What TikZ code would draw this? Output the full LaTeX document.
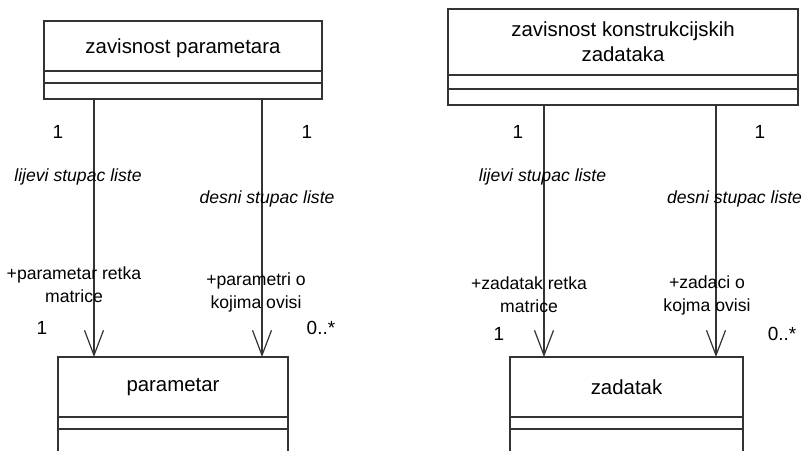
\documentclass[tikz,border=0pt]{standalone}
\usepackage{fontspec}
\setmainfont{Liberation Sans}
\usetikzlibrary{arrows.meta, positioning}
\definecolor{umlline}{HTML}{333333}

\begin{document}
\begin{tikzpicture}[
	x=0.5pt, y=-0.5pt,
	classbox/.style={
		draw=umlline, line width=0.6pt, inner sep=0pt, outer sep=0pt,
		align=center, font=\fontsize{10.2}{12.5}\selectfont
	},
	compart/.style={classbox, minimum height=#1},
	assoc/.style={draw=umlline, line width=0.6pt, -{Straight Barb[length=12.5pt, width=9.5pt, line width=0.6pt]}},
	mult/.style={font=\fontsize{9.5}{11}\selectfont},
	rolename/.style={font=\itshape\fontsize{8.8}{11}\selectfont},
	roleend/.style={font=\fontsize{8.8}{11.5}\selectfont, align=center}
	]
	
	\useasboundingbox (0,0) rectangle (802,450);
	\clip (0,0) rectangle (802,450);
	
	% ==========================================
	% LEFT: zavisnost parametara -> parametar
	% ==========================================
	
	% Association class (top)
	\node[compart=25pt, minimum width=139pt, text height=9.5pt, text depth=2pt] (zpName) at (183,46) {zavisnost parametara};
	\node[compart=6pt, minimum width=139pt, below=0pt of zpName] (zpAttr) {};
	\node[compart=8pt, minimum width=139pt, below=0pt of zpAttr] (zpOps) {};
	
	% Target class (bottom), cut off by the page edge
	\node[compart=30pt, minimum width=115pt] (parName) at (173,387) {parametar};
	\node[compart=6pt, minimum width=115pt, below=0pt of parName] (parAttr) {};
	\node[compart=12pt, minimum width=115pt, below=0pt of parAttr] (parOps) {};
	
	% Columns of the two ends
	\coordinate (colA) at (94,0);
	\coordinate (colB) at (262,0);
	
	\draw[assoc] (zpOps.south -| colA) -- (parName.north -| colA);
	\draw[assoc] (zpOps.south -| colB) -- (parName.north -| colB);
	
	% Multiplicities and roles
	\node[mult] (mA1) at (58,132) {1};
	\node[mult] (mB1) at (307,132) {1};
	\node[rolename] (rA) at (78,177) {lijevi stupac liste};
	\node[rolename] (rB) at (267,199) {desni stupac liste};
	\node[roleend] (eA) at (74,285) {+parametar retka\\matrice};
	\node[roleend] (eB) at (256,292) {+parametri o\\kojima ovisi};
	\node[mult] (mA2) at (42,328) {1};
	\node[mult] (mB2) at (321,328) {0..*};
	
	% ==========================================
	% RIGHT: zavisnost konstrukcijskih zadataka -> zadatak
	% ==========================================
	
	% Association class (top)
	\node[compart=33pt, minimum width=175pt] (zkName) at (623,42) {zavisnost konstrukcijskih\\zadataka};
	\node[compart=7pt, minimum width=175pt, below=0pt of zkName] (zkAttr) {};
	\node[compart=8pt, minimum width=175pt, below=0pt of zkAttr] (zkOps) {};
	
	% Target class (bottom)
	\node[compart=30pt, minimum width=116.5pt] (zadName) at (626.5,387) {zadatak};
	\node[compart=6pt, minimum width=116.5pt, below=0pt of zadName] (zadAttr) {};
	\node[compart=12pt, minimum width=116.5pt, below=0pt of zadAttr] (zadOps) {};
	
	\coordinate (colC) at (544,0);
	\coordinate (colD) at (716,0);
	
	\draw[assoc] (zkOps.south -| colC) -- (zadName.north -| colC);
	\draw[assoc] (zkOps.south -| colD) -- (zadName.north -| colD);
	
	% Multiplicities and roles
	\node[mult] (mC1) at (518,132) {1};
	\node[mult] (mD1) at (760,132) {1};
	\node[rolename] (rC) at (542.5,177) {lijevi stupac liste};
	\node[rolename] (rD) at (734.5,199) {desni stupac liste};
	\node[roleend] (eC) at (529,295) {+zadatak retka\\matrice};
	\node[roleend] (eD) at (707,295) {+zadaci o\\kojma ovisi};
	\node[mult] (mC2) at (499,334) {1};
	\node[mult] (mD2) at (782,334) {0..*};
\end{tikzpicture}
\end{document}
